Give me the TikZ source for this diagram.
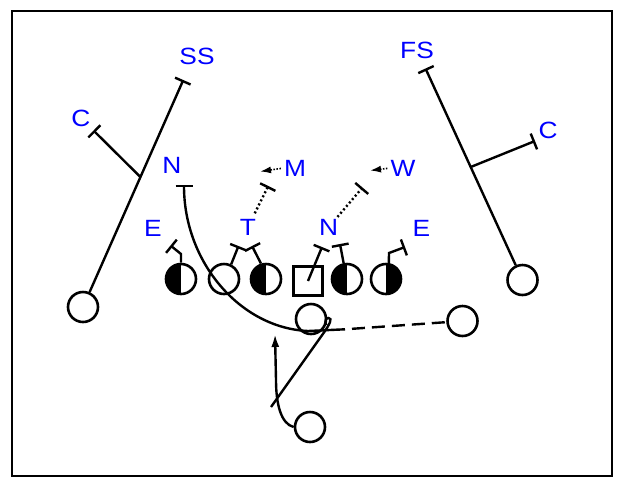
\documentclass[tikz,border=0pt]{standalone}
\usepackage{fontspec}
\newfontfamily\labfont{Liberation Sans}[FakeStretch=1.12]
\usetikzlibrary{arrows.meta}
\begin{document}
\begin{tikzpicture}[x=1pt,y=-1pt,
  player/.style={circle,draw,line width=2.6pt,minimum size=30pt,inner sep=0pt},
  halfL/.style={player,path picture={\fill (path picture bounding box.south west) rectangle (path picture bounding box.north);}},
  halfR/.style={player,path picture={\fill (path picture bounding box.south east) rectangle (path picture bounding box.north);}},
  ctr/.style={rectangle,draw,line width=2.6pt,minimum size=29pt,inner sep=0pt},
  lab/.style={text=blue,font=\labfont\fontsize{23.5}{24}\selectfont,inner sep=0pt,text depth=0pt},
  route/.style={line width=2.4pt},
  blk/.style={route,-{Bar[width=17pt]}},
  dotblk/.style={line width=2.4pt,dash pattern=on 2pt off 2.5pt,-{Bar[width=17pt]}},
  sarrow/.style={line width=1.6pt,dash pattern=on 1.5pt off 1.5pt,-{Latex[length=11pt,width=7pt]}},
  bigarrow/.style={route,-{Latex[length=13pt,width=8pt]}}
]
\useasboundingbox (0,0) rectangle (620,483);
\draw[line width=2.4pt] (12,11) rectangle (612,476);

% players
\node[player] (lw) at (83,307) {};
\node[player] (rw) at (522.5,280) {};
\node[halfL] (le) at (181,279) {};
\node[player] (lg) at (224,279) {};
\node[halfL] (lt) at (266,279) {};
\node[ctr] (c) at (308,281) {};
\node[halfL] (rg) at (347,279) {};
\node[halfR] (re) at (386,279) {};
\node[player] (qb) at (311,319) {};
\node[player] (hb) at (462.5,321) {};
\node[player] (fb) at (310,427) {};

% labels
\node[lab] (lSS) at (197,56) {SS};
\node[lab] (lC1) at (81,118) {C};
\node[lab] (lN1) at (172,165) {N};
\node[lab] (lE1) at (153,228) {E};
\node[lab] (lT) at (248,227) {T};
\node[lab] (lN2) at (328.5,227.5) {N};
\node[lab] (lM) at (295,168) {M};
\node[lab] (lW) at (403,168) {W};
\node[lab] (lE2) at (421.5,228) {E};
\node[lab] (lFS) at (417,50) {FS};
\node[lab] (lC2) at (548,130) {C};

% left side routes
\coordinate (ssE) at (183.3,80);
\coordinate (lcB) at (140.4,177);
\coordinate (lcE) at (93.5,130.5);
\draw[blk] (lw) -- (ssE);
\draw[blk] (lcB) -- (lcE);

% right side routes
\coordinate (fsE) at (425.5,68.5);
\coordinate (rcB) at (470.7,167);
\coordinate (rcE) at (535,141);
\draw[blk] (rw) -- (fsE);
\draw[blk] (rcB) -- (rcE);

% line blocks
\draw[blk] (le.north) -- (181,254) -- (170.5,245.5);
\draw[blk] (lg.64) -- (238.5,246);
\draw[blk] (lt.108) -- (252,246);
\draw[blk] (c.center) -- (322,247);
\draw[blk] (rg.102) -- (340,244);
\draw[blk] (re.80) -- (389,253) -- (405,247);

% linebacker reads
\coordinate (mB) at (268.3,186);
\coordinate (wB) at (362.5,187.5);
\draw[dotblk,shorten <=6pt] (lT) -- (mB);
\draw[dotblk,shorten <=3pt] (lN2) -- (wB);
\coordinate (mA) at (260,171.5);
\coordinate (wA) at (370,170.5);
\draw[sarrow,shorten <=3pt] (lM.west) -- (mA);
\draw[sarrow,shorten <=3pt] (lW.west) -- (wA);

% nose / motion path
\coordinate (nE) at (184,184.5);
\coordinate (mid) at (345,329.3);
\draw[blk] (mid) -- (308,331) .. controls (240,328) and (184,262) .. (nE);
\draw[route,dash pattern=on 13pt off 7pt,dash phase=13pt] (mid) -- (hb);

% QB path
\coordinate (qs) at (271,407);
\draw[route] (qs) -- (325,331) .. controls (329,325) and (333,318) .. (328.5,318) .. controls (325.5,318) and (325,321) .. (326,325);

% fullback arrow
\coordinate (fbA) at (275,334);
\draw[bigarrow] (fb.west) .. controls (281,424) and (276,404) .. (276,380) -- (fbA);
\end{tikzpicture}
\end{document}
